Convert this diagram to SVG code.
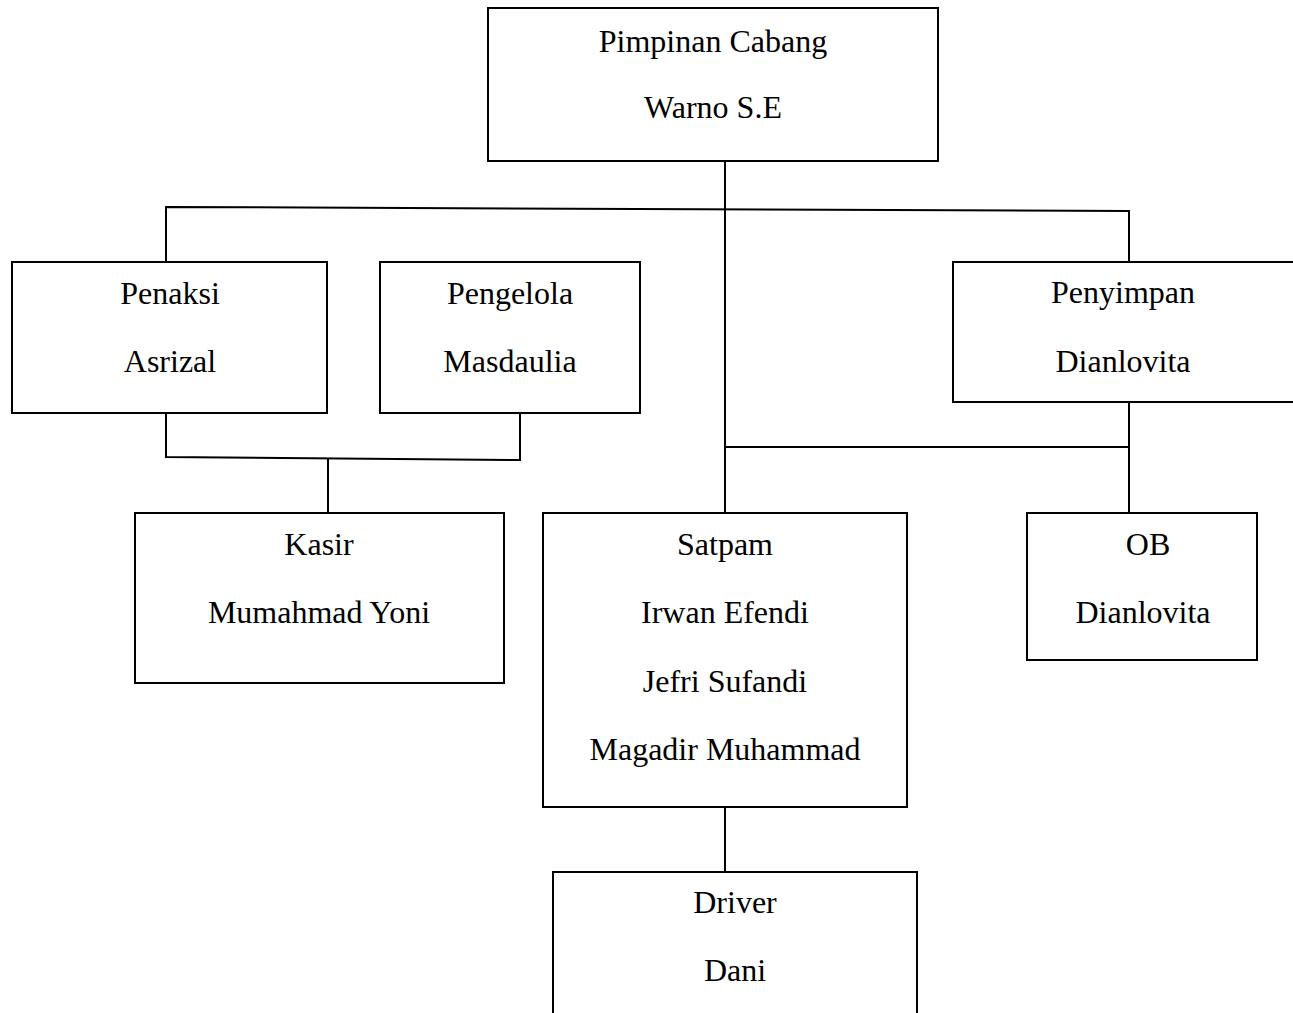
<svg xmlns="http://www.w3.org/2000/svg" width="1293" height="1013" viewBox="0 0 1293 1013">
<style>
.box{fill:#fff;stroke:#000;stroke-width:2}
.ln{fill:none;stroke:#000;stroke-width:2}
text{font-family:"Liberation Serif","Times New Roman",serif;font-size:32px;fill:#000;text-anchor:middle}
</style>
<rect width="1293" height="1013" fill="#fff"/>
<g id="connectors">
<path class="ln" d="M725 161 V513"/>
<path class="ln" d="M166 262 V207 L1129 211 V262"/>
<path class="ln" d="M166 403 V457 L520 460 V414"/>
<path class="ln" d="M328 458 V513"/>
<path class="ln" d="M725 447 H1129"/>
<path class="ln" d="M1129 403 V513"/>
<path class="ln" d="M725 807 V872"/>
</g>
<g id="pimpinan">
<rect class="box" x="488" y="8" width="450" height="153"/>
<text x="713" y="52">Pimpinan Cabang</text>
<text x="713" y="118">Warno S.E</text>
</g>
<g id="penaksi">
<rect class="box" x="12" y="262" width="315" height="151"/>
<text x="170" y="304">Penaksi</text>
<text x="170" y="372">Asrizal</text>
</g>
<g id="pengelola">
<rect class="box" x="380" y="262" width="260" height="151"/>
<text x="510" y="304">Pengelola</text>
<text x="510" y="372">Masdaulia</text>
</g>
<g id="penyimpan">
<rect class="box" x="953" y="262" width="345" height="140"/>
<text x="1123" y="303">Penyimpan</text>
<text x="1123" y="372">Dianlovita</text>
</g>
<g id="kasir">
<rect class="box" x="135" y="513" width="369" height="170"/>
<text x="319" y="555">Kasir</text>
<text x="319" y="623">Mumahmad Yoni</text>
</g>
<g id="satpam">
<rect class="box" x="543" y="513" width="364" height="294"/>
<text x="725" y="555">Satpam</text>
<text x="725" y="623">Irwan Efendi</text>
<text x="725" y="692">Jefri Sufandi</text>
<text x="725" y="760">Magadir Muhammad</text>
</g>
<g id="ob">
<rect class="box" x="1027" y="513" width="230" height="147"/>
<text x="1148" y="555">OB</text>
<text x="1143" y="623">Dianlovita</text>
</g>
<g id="driver">
<rect class="box" x="553" y="872" width="364" height="160"/>
<text x="735" y="913">Driver</text>
<text x="735" y="981">Dani</text>
</g>
</svg>
